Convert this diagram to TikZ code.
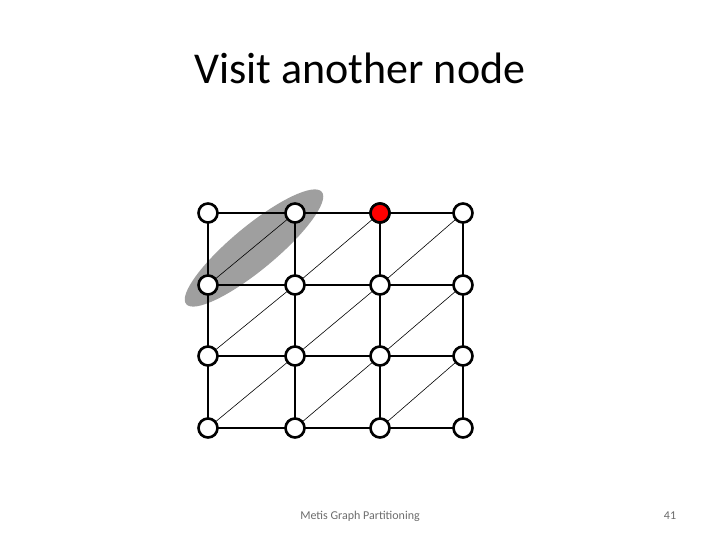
\documentclass[tikz,border=0pt]{standalone}
\usepackage{fontspec}
\setmainfont{Carlito}
\begin{document}
\begin{tikzpicture}[x=1pt,y=1pt,
  vtx/.style={circle,draw=black,line width=2.6pt,fill=white,minimum size=19pt,inner sep=0pt},
  redvtx/.style={vtx,fill=red},
  gridedge/.style={line width=1.1pt,black},
  diagedge/.style={line width=0.6pt,black},
  footer/.style={text=gray!85!black,font=\fontsize{12}{14}\selectfont}]
\useasboundingbox (0,0) rectangle (720,540);
\node (title) at (360,472) {\fontsize{44}{52}\selectfont Visit another node};
% ellipse highlight
\fill[gray!75] (254,292) ellipse [x radius=88pt, y radius=22pt, rotate=39.6];
% node coordinates
\foreach \c/\x in {0/208,1/295,2/380,3/463}{
  \foreach \r/\y in {0/327,1/255,2/184,3/112}{
    \coordinate (p\r\c) at (\x,\y);
  }
}
% edges
\foreach \r in {0,1,2,3}{
  \draw[gridedge] (p\r0) -- (p\r1) -- (p\r2) -- (p\r3);
}
\foreach \c in {0,1,2,3}{
  \draw[gridedge] (p0\c) -- (p1\c) -- (p2\c) -- (p3\c);
}
\foreach \r/\rn in {0/1,1/2,2/3}{
  \foreach \c/\cn in {0/1,1/2,2/3}{
    \draw[diagedge] (p\rn\c) -- (p\r\cn);
  }
}
% vertices
\foreach \r in {0,1,2,3}{
  \foreach \c in {0,1,2,3}{
    \node[vtx] (v\r\c) at (p\r\c) {};
  }
}
\node[redvtx] (red) at (p02) {};
\node[footer] (foot) at (360,24) {Metis Graph Partitioning};
\node[footer] (num) at (670,24) {41};
\end{tikzpicture}
\end{document}
